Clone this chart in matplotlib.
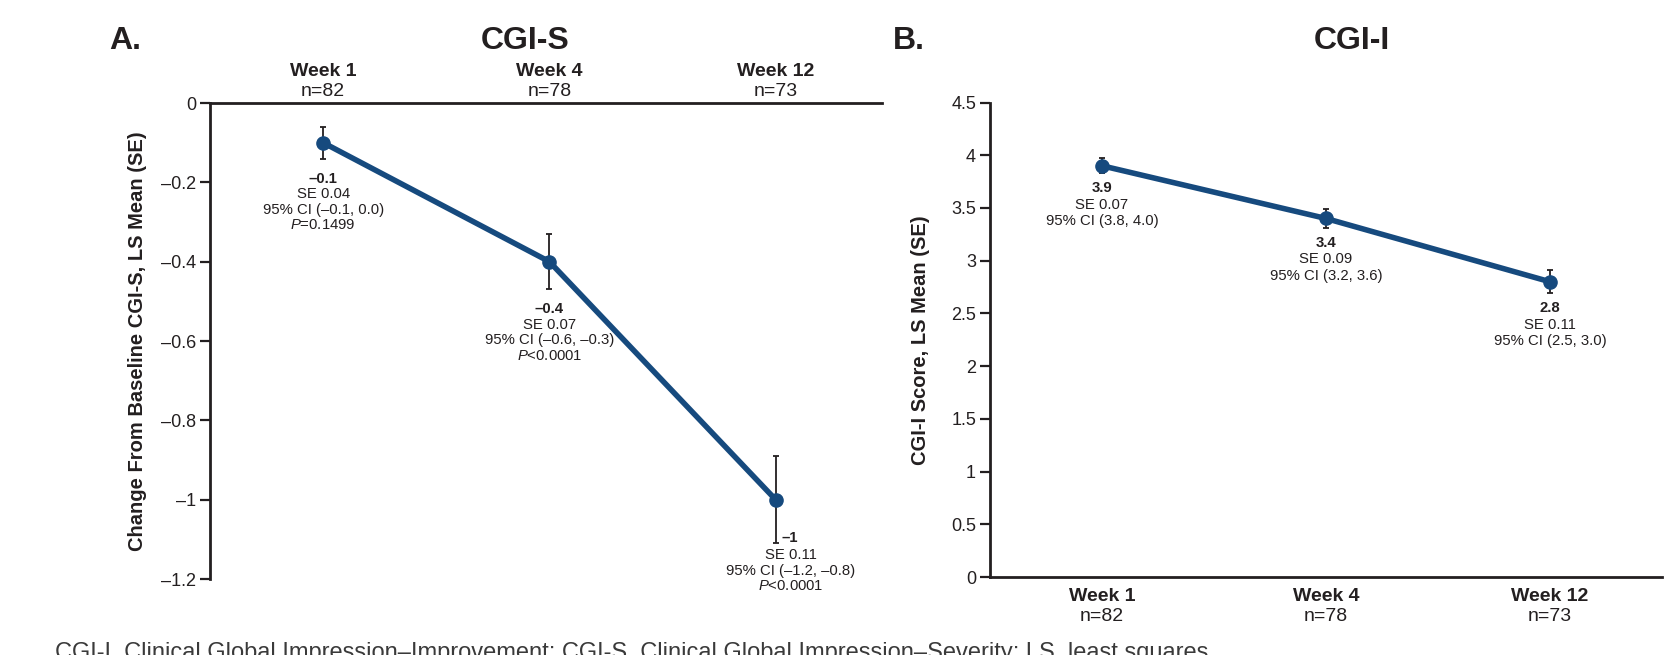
import matplotlib
matplotlib.use('Agg')
import matplotlib.pyplot as plt
from matplotlib.ticker import FuncFormatter, MultipleLocator
import matplotlib.transforms as mtransforms

plt.rcParams['font.family'] = ['Liberation Sans', 'DejaVu Sans']
plt.rcParams['mathtext.fontset'] = 'custom'
plt.rcParams['mathtext.it'] = 'Liberation Sans:italic'
plt.rcParams['mathtext.rm'] = 'Liberation Sans'

weeks = ['Week 1', 'Week 4', 'Week 12']
n_counts = ['n=82', 'n=78', 'n=73']

cgis_mean = [-0.1, -0.4, -1.0]
cgis_se = [0.04, 0.07, 0.11]
cgis_value = ['–0.1', '–0.4', '–1']
cgis_se_txt = ['SE 0.04', 'SE 0.07', 'SE 0.11']
cgis_ci = ['95% CI (–0.1, 0.0)', '95% CI (–0.6, –0.3)', '95% CI (–1.2, –0.8)']
cgis_p = ['=0.1499', '<0.0001', '<0.0001']

cgii_mean = [3.9, 3.4, 2.8]
cgii_se = [0.07, 0.09, 0.11]
cgii_value = ['3.9', '3.4', '2.8']
cgii_se_txt = ['SE 0.07', 'SE 0.09', 'SE 0.11']
cgii_ci = ['95% CI (3.8, 4.0)', '95% CI (3.2, 3.6)', '95% CI (2.5, 3.0)']

footnote = ('CGI-I, Clinical Global Impression–Improvement; '
            'CGI-S, Clinical Global Impression–Severity; LS, least squares.')

BLUE = '#164a7e'
INK = '#231f20'
W, H = 1673, 655
NOTE_SIZE = 10.7

fig = plt.figure(figsize=(W / 100, H / 100), dpi=100)


def box(x0, x1, ytop, ybot):
    return [x0 / W, 1 - ybot / H, (x1 - x0) / W, (ybot - ytop) / H]


def style_axis(ax):
    ax.tick_params(axis='y', direction='out', length=7, width=1.6,
                   color=INK, labelcolor=INK, labelsize=13, pad=3)
    ax.tick_params(axis='x', length=0)
    ax.set_xticks([])
    for s in ax.spines.values():
        s.set_color(INK)
        s.set_linewidth(2)


def draw_series(ax, xs, mean, se):
    ax.errorbar(xs, mean, yerr=se, fmt='none', ecolor=INK, elinewidth=1.3,
                capsize=2.3, capthick=1.3, zorder=2, clip_on=False)
    ax.plot(xs, mean, color=BLUE, lw=4, marker='o', ms=9.5,
            mfc=BLUE, mec=BLUE, zorder=3, clip_on=False)


def note(ax, x, y, txt, dx, dy, bold=False, ha='center'):
    ax.annotate(txt, xy=(x, y), xytext=(dx, dy), textcoords='offset pixels',
                ha=ha, va='center', fontsize=NOTE_SIZE, color=INK,
                fontweight='bold' if bold else 'normal')


xs = [1, 2, 3]
fmt = FuncFormatter(lambda v, p: ('%g' % v).replace('-', '–'))

# ---------------- Panel A: CGI-S ----------------
axA = fig.add_axes(box(210, 882, 103, 579))
style_axis(axA)
axA.spines['bottom'].set_visible(False)
axA.spines['right'].set_visible(False)
axA.set_xlim(0.5, 3.47)
axA.set_ylim(-1.2, 0)
axA.yaxis.set_major_locator(MultipleLocator(0.2))
axA.yaxis.set_major_formatter(fmt)
draw_series(axA, xs, cgis_mean, cgis_se)
axA.set_ylabel('Change From Baseline CGI-S, LS Mean (SE)', fontsize=14.5,
               fontweight='bold', color=INK)
axA.yaxis.set_label_coords(-0.094, 0.5)

tA = mtransforms.blended_transform_factory(axA.transData, axA.transAxes)
for i, x in enumerate(xs):
    axA.text(x, 1.0 + 31 / 476, weeks[i], transform=tA, ha='center',
             va='center', fontsize=14, fontweight='bold', color=INK)
    axA.text(x, 1.0 + 12 / 476, n_counts[i], transform=tA, ha='center',
             va='center', fontsize=14, color=INK)

for i in range(2):
    lo = cgis_mean[i] - cgis_se[i]
    note(axA, xs[i], lo, cgis_value[i], 0, -20, bold=True)
    note(axA, xs[i], lo, cgis_se_txt[i], 0, -35.5)
    note(axA, xs[i], lo, cgis_ci[i], 0, -51)
    note(axA, xs[i], lo, '$\\it{P}$' + cgis_p[i], 0, -66.5)
lo = cgis_mean[2] - cgis_se[2]
note(axA, xs[2], lo, cgis_value[2], 6, 5, bold=True, ha='left')
note(axA, xs[2], lo, cgis_se_txt[2], 15, -12)
note(axA, xs[2], lo, cgis_ci[2], 15, -27.5)
note(axA, xs[2], lo, '$\\it{P}$' + cgis_p[2], 15, -43)

# ---------------- Panel B: CGI-I ----------------
axB = fig.add_axes(box(990, 1662, 102.5, 577))
style_axis(axB)
axB.spines['top'].set_visible(False)
axB.spines['right'].set_visible(False)
axB.set_xlim(0.5, 3.5)
axB.set_ylim(0, 4.5)
axB.yaxis.set_major_locator(MultipleLocator(0.5))
axB.yaxis.set_major_formatter(fmt)
draw_series(axB, xs, cgii_mean, cgii_se)
axB.set_ylabel('CGI-I Score, LS Mean (SE)', fontsize=14.5,
               fontweight='bold', color=INK)
axB.yaxis.set_label_coords(-0.09, 0.5)

tB = mtransforms.blended_transform_factory(axB.transData, axB.transAxes)
for i, x in enumerate(xs):
    axB.text(x, -19 / 474, weeks[i], transform=tB, ha='center',
             va='center', fontsize=14, fontweight='bold', color=INK)
    axB.text(x, -39 / 474, n_counts[i], transform=tB, ha='center',
             va='center', fontsize=14, color=INK)

for i in range(3):
    lo = cgii_mean[i] - cgii_se[i]
    note(axB, xs[i], lo, cgii_value[i], 0, -15, bold=True)
    note(axB, xs[i], lo, cgii_se_txt[i], 0, -31.5)
    note(axB, xs[i], lo, cgii_ci[i], 0, -48)

# ---------------- titles and footnote ----------------
for xpos, label in [(125, 'A.'), (525, 'CGI-S'), (909, 'B.'), (1352, 'CGI-I')]:
    fig.text(xpos / W, 1 - 41 / H, label, fontsize=23, fontweight='bold',
             color=INK, ha='center', va='center')
fig.text(55 / W, 1 - 642 / H, footnote, fontsize=17, color='#3a3a3a',
         ha='left', va='top')

fig.savefig('out.png', dpi=100)
